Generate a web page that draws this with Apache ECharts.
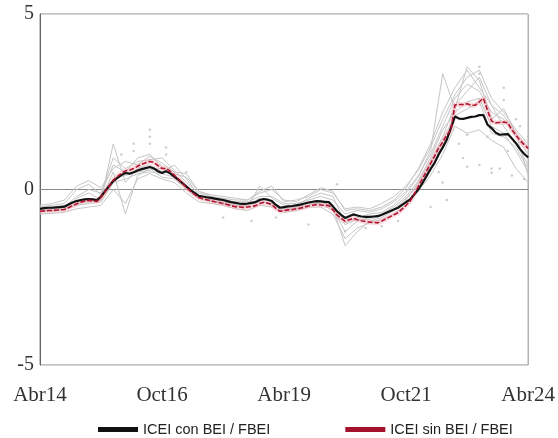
<!DOCTYPE html>
<html>
<head>
<meta charset="utf-8">
<script src="https://cdn.jsdelivr.net/npm/echarts@6/dist/echarts.min.js"></script>
<style>
  html, body { margin: 0; padding: 0; background: #fff; }
  #chart { width: 558px; height: 438px; }
</style>
</head>
<body>
<div id="chart"></div>
<script>
// monthly index 0 = Abr14 ... 120 = Abr24
var tickLabels = ['Abr14', 'Oct16', 'Abr19', 'Oct21', 'Abr24'];
var tickPos = [0, 30, 60, 90, 120];

// ICEI con BEI / FBEI (black)
var conBEI = [
  -0.55,-0.53,-0.52,-0.52,-0.51,-0.50,-0.49,-0.43,-0.37,-0.33,
  -0.30,-0.28,-0.27,-0.28,-0.31,-0.20,-0.05,0.10,0.24,0.33,
  0.41,0.47,0.45,0.49,0.54,0.58,0.61,0.64,0.60,0.52,
  0.47,0.52,0.46,0.37,0.28,0.18,0.08,-0.02,-0.10,-0.18,
  -0.20,-0.22,-0.24,-0.26,-0.28,-0.30,-0.33,-0.36,-0.38,-0.40,
  -0.41,-0.40,-0.38,-0.36,-0.30,-0.27,-0.29,-0.33,-0.44,-0.52,
  -0.50,-0.48,-0.47,-0.45,-0.43,-0.40,-0.37,-0.35,-0.33,-0.34,
  -0.35,-0.36,-0.48,-0.62,-0.72,-0.81,-0.76,-0.71,-0.74,-0.77,
  -0.78,-0.78,-0.77,-0.76,-0.72,-0.67,-0.62,-0.57,-0.52,-0.44,
  -0.36,-0.28,-0.14,0.00,0.18,0.38,0.58,0.76,1.00,1.20,
  1.42,1.75,2.08,2.02,2.01,2.04,2.07,2.08,2.12,2.12,
  1.85,1.75,1.62,1.56,1.57,1.58,1.45,1.32,1.15,1.02,
  0.91
];

// ICEI sin BEI / FBEI (red dashed)
var sinBEI = [
  -0.62,-0.61,-0.60,-0.60,-0.59,-0.58,-0.57,-0.52,-0.46,-0.41,
  -0.36,-0.33,-0.31,-0.32,-0.34,-0.22,-0.06,0.10,0.26,0.37,
  0.46,0.53,0.55,0.60,0.66,0.72,0.76,0.80,0.77,0.68,
  0.60,0.60,0.52,0.41,0.30,0.18,0.06,-0.05,-0.14,-0.23,
  -0.26,-0.29,-0.32,-0.35,-0.37,-0.40,-0.43,-0.46,-0.49,-0.50,
  -0.51,-0.50,-0.48,-0.46,-0.40,-0.37,-0.39,-0.43,-0.54,-0.62,
  -0.60,-0.58,-0.57,-0.55,-0.53,-0.50,-0.47,-0.45,-0.43,-0.44,
  -0.45,-0.46,-0.58,-0.72,-0.82,-0.90,-0.86,-0.82,-0.86,-0.89,
  -0.91,-0.93,-0.94,-0.95,-0.90,-0.84,-0.78,-0.72,-0.66,-0.56,
  -0.45,-0.33,-0.13,0.09,0.30,0.52,0.74,0.95,1.18,1.35,
  1.55,1.70,2.41,2.42,2.42,2.44,2.40,2.40,2.50,2.60,
  2.25,1.95,1.90,1.91,1.92,1.90,1.70,1.55,1.40,1.28,
  1.17
];

// individual indicators (grey), quarterly: index 0,3,...,120
var grey1 = [-0.45,-0.40,-0.30,0.10,0.25,0.05,0.60,0.80,0.70,0.95,0.75,0.50,0.45,-0.05,-0.15,-0.20,-0.25,-0.30,-0.05,0.10,-0.35,-0.30,-0.20,0.00,-0.10,-0.55,-0.50,-0.55,-0.40,-0.20,0.10,0.55,1.20,2.00,2.70,3.20,3.40,2.60,2.20,1.70,1.30];
var grey2 = [-0.70,-0.68,-0.65,-0.55,-0.50,-0.45,0.00,-0.40,0.30,0.45,0.30,0.20,-0.10,-0.35,-0.40,-0.45,-0.55,-0.60,-0.45,-0.50,-0.65,-0.60,-0.50,-0.50,-0.70,-1.40,-1.10,-0.95,-0.85,-0.70,-0.45,-0.05,0.40,1.00,1.80,1.60,1.70,1.40,1.20,0.60,0.20];
var grey3 = [-0.60,-0.55,-0.50,-0.20,0.00,-0.10,0.90,0.60,0.80,0.85,0.90,0.55,0.20,-0.10,-0.20,-0.30,-0.35,-0.35,-0.20,-0.20,-0.40,-0.40,-0.30,-0.20,-0.30,-0.70,-0.60,-0.65,-0.55,-0.35,-0.05,0.40,1.00,1.80,2.60,3.00,2.80,2.20,2.00,1.50,1.00];
var grey4 = [-0.50,-0.50,-0.45,-0.35,-0.30,-0.25,0.30,0.40,0.50,0.55,0.60,0.40,0.10,-0.20,-0.25,-0.35,-0.45,-0.45,-0.25,-0.35,-0.55,-0.50,-0.40,-0.35,-0.50,-1.60,-1.20,-0.90,-0.80,-0.60,-0.30,0.20,0.80,1.50,2.40,2.80,3.20,2.40,1.80,1.30,0.70];
var grey5 = [-0.65,-0.60,-0.55,-0.40,-0.35,-0.30,1.30,0.20,0.60,0.70,0.50,0.70,0.30,-0.15,-0.30,-0.25,-0.40,-0.50,0.10,-0.25,-0.45,-0.45,-0.25,-0.10,-0.20,-0.95,-0.80,-0.70,-0.65,-0.45,-0.10,0.35,1.10,3.30,2.30,3.50,3.10,2.00,2.30,1.60,0.40];
var grey6 = [-0.55,-0.55,-0.60,-0.25,-0.10,-0.30,0.50,-0.70,0.40,0.60,0.35,0.30,0.00,-0.25,-0.30,-0.40,-0.50,-0.40,-0.30,-0.45,-0.60,-0.55,-0.45,-0.30,-0.55,-1.20,-0.90,-0.80,-0.70,-0.50,-0.20,0.25,0.90,1.70,2.20,2.50,2.60,1.80,1.60,1.10,0.50];
var grey7 = [-0.50,-0.45,-0.40,0.00,0.15,-0.15,0.70,0.50,0.90,1.00,0.65,0.45,0.35,-0.05,-0.20,-0.25,-0.30,-0.30,-0.10,0.00,-0.30,-0.35,-0.15,0.05,-0.05,-0.60,-0.55,-0.60,-0.50,-0.30,0.05,0.60,1.30,2.20,2.90,3.40,2.90,2.40,2.10,1.60,1.20];
var grey8 = [-0.60,-0.62,-0.55,-0.45,-0.40,-0.35,0.20,0.30,0.45,0.50,0.45,0.35,0.05,-0.25,-0.35,-0.40,-0.45,-0.45,-0.35,-0.40,-0.55,-0.50,-0.40,-0.40,-0.60,-1.00,-0.85,-0.85,-0.75,-0.55,-0.25,0.15,0.70,1.40,2.10,2.30,2.50,1.60,1.50,1.20,0.60];

// loose grey dots [month index, value]
var dots = [
  [23,1.1],[23,1.3],[27,1.3],[27,1.5],[27,1.7],[31,1.0],[31,1.2],[36,0.5],[20,1.0],
  [45,-0.8],[52,-0.9],[58,-0.8],[66,-1.0],[73,0.15],[75,-1.2],[80,-1.1],[84,-1.05],
  [88,-0.9],[90,-0.3],[96,-0.5],[98,0.5],[99,0.2],[100,-0.3],[103,1.3],[104,0.9],
  [105,1.56],[105,0.65],[108,3.5],[108,3.3],[108,0.7],[110,1.5],[111,0.6],[111,0.48],
  [112,1.9],[113,0.6],[114,2.9],[114,2.55],[115,1.1],[116,0.4],[117,2.0],[118,1.8],
  [119,0.3],[120,1.5]
];

var greyList = [grey1, grey2, grey3, grey4, grey5, grey6, grey7, grey8];

function monthly(arr) { return arr.map(function (v, i) { return [i, v]; }); }
function quarterly(arr) { return arr.map(function (v, i) { return [i * 3, v]; }); }

var series = [];
greyList.forEach(function (g, k) {
  series.push({
    name: 'g' + k, type: 'line', data: quarterly(g), showSymbol: false, silent: true,
    lineStyle: { color: '#c6c6c6', width: 1 }, z: 1
  });
});
series.push({
  name: 'dots', type: 'scatter', data: dots, symbolSize: 2.5, silent: true,
  itemStyle: { color: '#c0c0c0' }, z: 1
});
series.push({
  name: 'halo', type: 'line', data: monthly(sinBEI), showSymbol: false, silent: true,
  lineStyle: { color: 'rgba(240,160,170,0.35)', width: 5 }, z: 2
});
series.push({
  name: 'ICEI con BEI / FBEI', type: 'line', data: monthly(conBEI), showSymbol: false,
  itemStyle: { color: '#111' }, lineStyle: { color: '#111', width: 2.2 }, z: 3
});
series.push({
  name: 'ICEI sin BEI / FBEI', type: 'line', data: monthly(sinBEI), showSymbol: false,
  itemStyle: { color: '#a5122d' }, lineStyle: { color: '#b5142f', width: 1.6, type: [5, 2] }, z: 4
});

var chart = echarts.init(document.getElementById('chart'));
chart.setOption({
  animation: false,
  backgroundColor: '#fff',
  grid: { left: 40, right: 25, top: 14, bottom: 73, show: true, borderColor: '#8a8a8a', borderWidth: 1 },
  xAxis: {
    type: 'value', min: 0, max: 120, interval: 30,
    axisLine: { show: true, lineStyle: { color: '#8a8a8a' } },
    axisTick: { show: false },
    splitLine: { show: false },
    axisLabel: {
      margin: 20, fontFamily: 'Liberation Serif', fontSize: 21, color: '#333',
      formatter: function (v) { var k = tickPos.indexOf(v); return k < 0 ? '' : tickLabels[k]; }
    }
  },
  yAxis: {
    type: 'value', min: -5, max: 5, interval: 5,
    axisLine: { show: true, lineStyle: { color: '#666' } },
    axisTick: { show: false },
    splitLine: { show: true, lineStyle: { color: '#d4d4d4', width: 1 } },
    axisLabel: { margin: 6, fontFamily: 'Liberation Serif', fontSize: 20, color: '#333' }
  },
  legend: {
    left: 93, top: 417, itemWidth: 40, itemHeight: 5, itemGap: 75,
    textStyle: { fontFamily: 'Liberation Sans', fontSize: 14.5, color: '#222' },
    data: [
      { name: 'ICEI con BEI / FBEI', icon: 'rect' },
      { name: 'ICEI sin BEI / FBEI', icon: 'rect' }
    ]
  },
  series: series
});
</script>
</body>
</html>
